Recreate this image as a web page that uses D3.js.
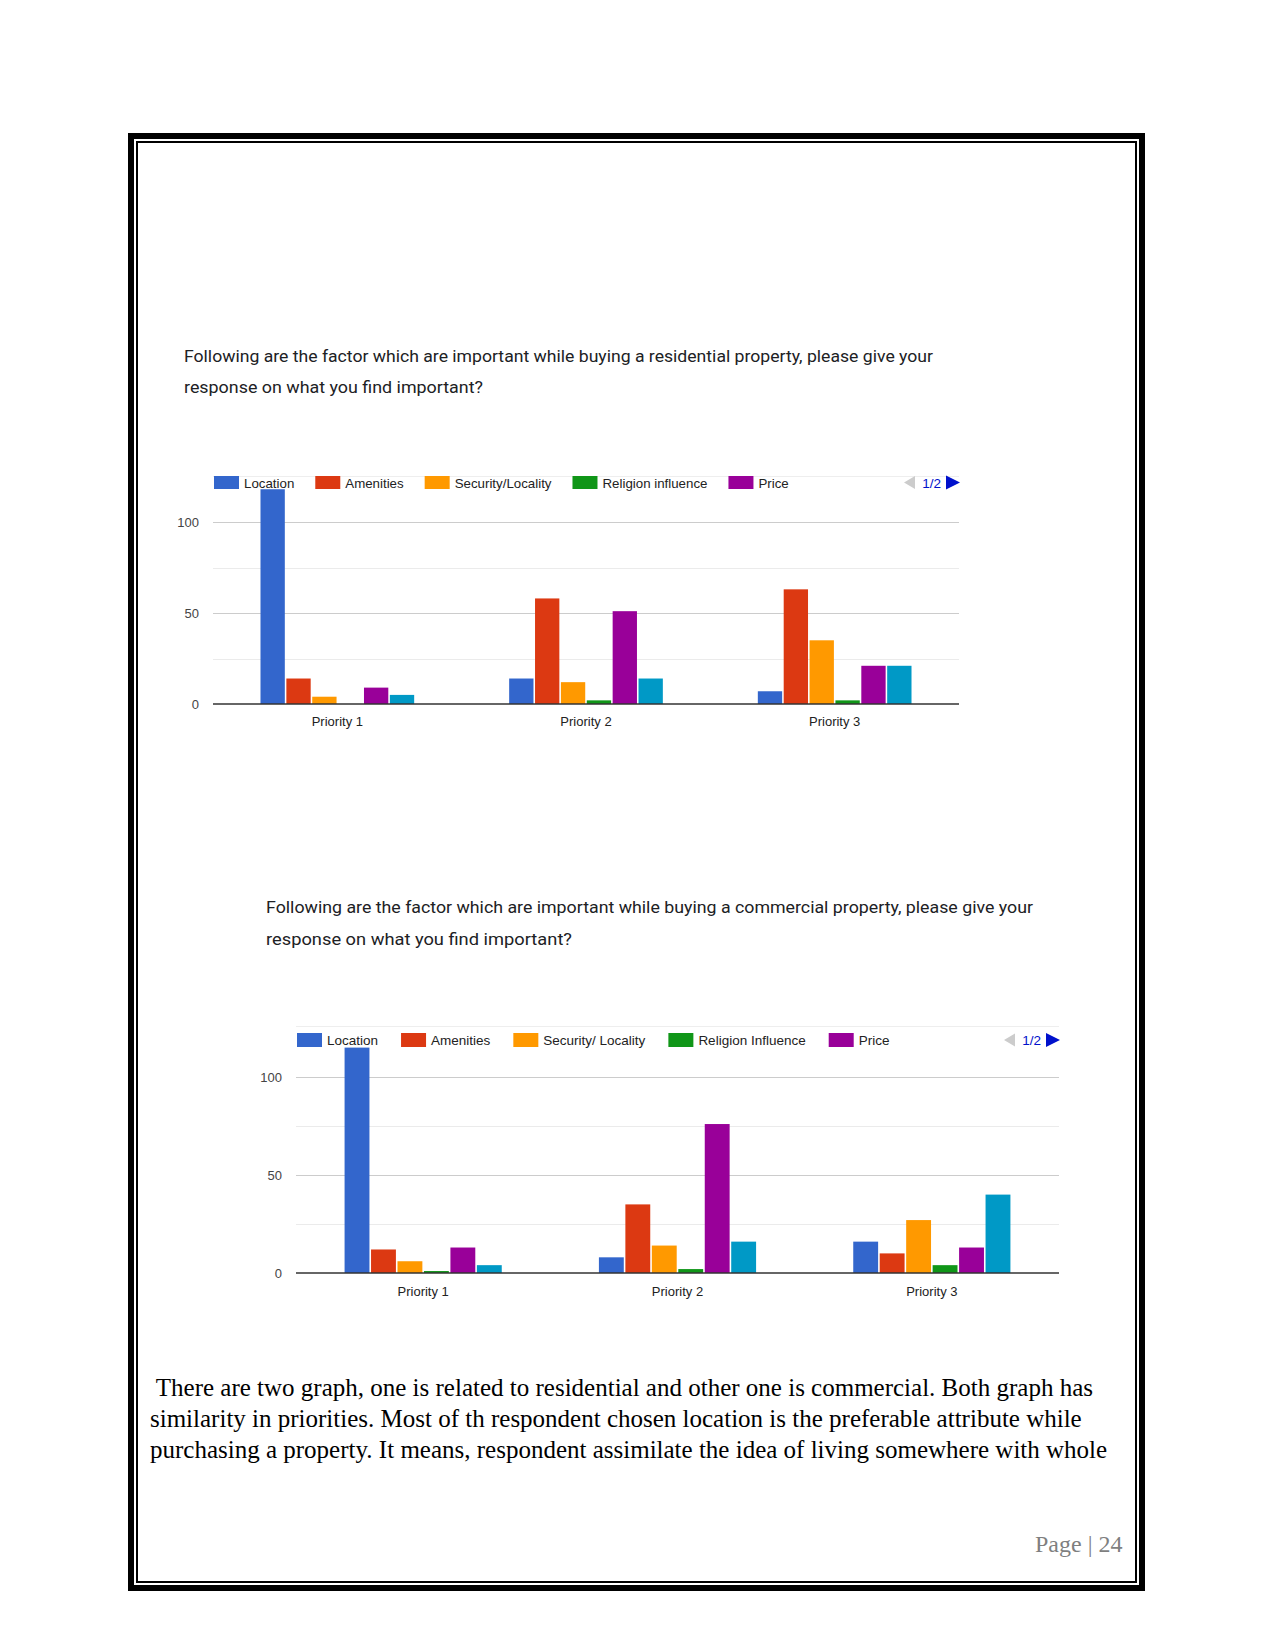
<!DOCTYPE html>
<html>
<head>
<meta charset="utf-8">
<script src="https://cdn.jsdelivr.net/npm/d3@7"></script>
<style>
  body { margin: 0; background: #fff; }
  svg { display: block; }
</style>
</head>
<body>
<div id="page"></div>
<script>

// categories shared by both charts
var categories = ["Priority 1", "Priority 2", "Priority 3"]

// legend names (legend is paged, only the first five show on page 1/2)
var resSeries = ["Location", "Amenities", "Security/Locality", "Religion influence", "Price", "Other"]
var comSeries = ["Location", "Amenities", "Security/ Locality", "Religion Influence", "Price", "Other"]
var seriesColors = ["#3366cc", "#dc3912", "#ff9900", "#109618", "#990099", "#0099c6"]

// residential property, responses per series for Priority 1..3
var resLocation  = [118, 14, 7]
var resAmenities = [14, 58, 63]
var resSecurity  = [4, 12, 35]
var resReligion  = [0, 2, 2]
var resPrice     = [9, 51, 21]
var resOther     = [5, 14, 21]

// commercial property, responses per series for Priority 1..3
var comLocation  = [115, 8, 16]
var comAmenities = [12, 35, 10]
var comSecurity  = [6, 14, 27]
var comReligion  = [1, 2, 4]
var comPrice     = [13, 76, 13]
var comOther     = [4, 16, 40]

var yTicks = [0, 50, 100]
var yMinorTicks = [25, 75]
var legendPage = "1/2"

var resTitle = [
  "Following are the factor which are important while buying a residential property, please give your",
  "response on what you find important?"
]
var comTitle = [
  "Following are the factor which are important while buying a commercial property, please give your",
  "response on what you find important?"
]

var paragraph = [
  " There are two graph, one is related to residential and other one is commercial. Both graph has",
  "similarity in priorities. Most of th respondent chosen location is the preferable attribute while",
  "purchasing a property. It means, respondent assimilate the idea of living somewhere with whole"
]

var pageLabel = "Page | 24"

var W = 1275, H = 1651

var svg = d3.select("#page").append("svg")
  .attr("width", W)
  .attr("height", H)
  .style("background", "#fff")

// page border: thick outer line plus thin inner line
svg.append("rect")
  .attr("x", 131).attr("y", 136)
  .attr("width", 1011).attr("height", 1452)
  .attr("fill", "none").attr("stroke", "#000").attr("stroke-width", 6)

svg.append("rect")
  .attr("x", 137).attr("y", 142)
  .attr("width", 999).attr("height", 1440)
  .attr("fill", "none").attr("stroke", "#000").attr("stroke-width", 2)

function drawChart(cfg) {

  var g = svg.append("g")

  // question text
  cfg.title.forEach(function (line, i) {
    g.append("text")
      .attr("x", cfg.titleX)
      .attr("y", cfg.titleY + i * cfg.titleGap)
      .attr("textLength", cfg.titleWidths[i])
      .attr("lengthAdjust", "spacingAndGlyphs")
      .style("font-family", "Roboto, 'Open Sans', sans-serif")
      .style("font-size", cfg.titleSize + "px")
      .style("fill", "#202124")
      .text(line)
  })

  var x = d3.scaleBand().domain(categories).range([cfg.left, cfg.right])

  var groupWidth = x.bandwidth() * 0.618

  var xInner = d3.scaleBand().domain(d3.range(cfg.values.length)).range([0, groupWidth]).paddingInner(0.06)

  var groupOffset = (x.bandwidth() - groupWidth) / 2

  var y = d3.scaleLinear().domain([0, 100]).range([cfg.zeroY, cfg.topY])

  // faint line at top of the chart area
  g.append("line")
    .attr("x1", cfg.left).attr("x2", cfg.right)
    .attr("y1", cfg.topLineY).attr("y2", cfg.topLineY)
    .attr("stroke", "#eeeeee").attr("stroke-width", 1)

  g.selectAll(".minor")
    .data(yMinorTicks)
    .enter()
    .append("line")
    .attr("class", "minor")
    .attr("x1", cfg.left).attr("x2", cfg.right)
    .attr("y1", d => Math.round(y(d)) + 0.5).attr("y2", d => Math.round(y(d)) + 0.5)
    .attr("stroke", "#ebebeb")

  g.selectAll(".major")
    .data(yTicks.filter(d => d > 0))
    .enter()
    .append("line")
    .attr("class", "major")
    .attr("x1", cfg.left).attr("x2", cfg.right)
    .attr("y1", d => Math.round(y(d)) + 0.5).attr("y2", d => Math.round(y(d)) + 0.5)
    .attr("stroke", "#cccccc")

  cfg.values.forEach(function (series, s) {
    g.selectAll(".bar-" + s)
      .data(series.map((v, i) => ({ cat: categories[i], v: v })).filter(d => d.v > 0))
      .enter()
      .append("rect")
      .attr("class", "bar-" + s)
      .attr("x", d => x(d.cat) + groupOffset + xInner(s))
      .attr("y", d => y(d.v))
      .attr("width", xInner.bandwidth())
      .attr("height", d => y(0) - y(d.v))
      .attr("fill", seriesColors[s])
  })

  // baseline
  g.append("line")
    .attr("x1", cfg.left).attr("x2", cfg.right)
    .attr("y1", y(0)).attr("y2", y(0))
    .attr("stroke", "#333").attr("stroke-width", 1.5)

  var yAxis = d3.axisLeft(y).tickValues(yTicks).tickSize(0).tickPadding(14)

  var ya = g.append("g").attr("transform", "translate(" + cfg.left + ",0)").call(yAxis)
  ya.select(".domain").remove()
  ya.selectAll("text")
    .style("font-family", "'Liberation Sans', Arial, sans-serif")
    .style("font-size", "13px")
    .style("fill", "#444")

  var xAxis = d3.axisBottom(x).tickSize(0).tickPadding(cfg.catPad)

  var xa = g.append("g").attr("transform", "translate(0," + y(0) + ")").call(xAxis)
  xa.select(".domain").remove()
  xa.selectAll("text")
    .style("font-family", "'Liberation Sans', Arial, sans-serif")
    .style("font-size", "13px")
    .style("fill", "#222")

  // legend, first page of five items
  var lx = cfg.left + 1
  cfg.names.slice(0, 5).forEach(function (name, s) {
    g.append("rect")
      .attr("x", lx).attr("y", cfg.legendY - cfg.swatchH / 2)
      .attr("width", 25).attr("height", cfg.swatchH)
      .attr("fill", seriesColors[s])
    var t = g.append("text")
      .attr("x", lx + 30).attr("y", cfg.legendY + 5)
      .style("font-family", "'Liberation Sans', Arial, sans-serif")
      .style("font-size", cfg.legendSize + "px")
      .style("fill", "#222")
      .text(name)
    lx = lx + 30 + t.node().getComputedTextLength() + cfg.legendGap
  })

  // legend paging arrows
  var ly = cfg.legendY
  g.append("path")
    .attr("d", "M" + (cfg.right - 44) + "," + (ly - 6.5) + "L" + (cfg.right - 44) + "," + (ly + 6.5) + "L" + (cfg.right - 55) + "," + ly + "Z")
    .attr("fill", "#cccccc")
  g.append("text")
    .attr("x", cfg.right - 18).attr("y", ly + 5)
    .attr("text-anchor", "end")
    .style("font-family", "'Liberation Sans', Arial, sans-serif")
    .style("font-size", "13.5px")
    .style("fill", "#0011cc")
    .text(legendPage)
  g.append("path")
    .attr("d", "M" + (cfg.right - 13) + "," + (ly - 7) + "L" + (cfg.right - 13) + "," + (ly + 7) + "L" + (cfg.right + 1) + "," + ly + "Z")
    .attr("fill", "#0011cc")
}

drawChart({
  title: resTitle, titleX: 184, titleY: 362, titleGap: 31, titleSize: 16, titleWidths: [749, 299],
  names: resSeries,
  values: [resLocation, resAmenities, resSecurity, resReligion, resPrice, resOther],
  left: 213, right: 959, zeroY: 704, topY: 522, topLineY: 476.5,
  legendY: 482.5, swatchH: 13, legendSize: 13.3, legendGap: 21, catPad: 13
})

drawChart({
  title: comTitle, titleX: 266, titleY: 913, titleGap: 32, titleSize: 16.4, titleWidths: [767, 306],
  names: comSeries,
  values: [comLocation, comAmenities, comSecurity, comReligion, comPrice, comOther],
  left: 296, right: 1059, zeroY: 1273, topY: 1077, topLineY: 1026.5,
  legendY: 1040, swatchH: 14, legendSize: 13.5, legendGap: 23, catPad: 14
})

// body text under the charts
svg.selectAll(".para")
  .data(paragraph)
  .enter()
  .append("text")
  .attr("class", "para")
  .attr("x", 150)
  .attr("y", (d, i) => 1396 + i * 31)
  .style("white-space", "pre")
  .style("font-family", "'Liberation Serif', 'Times New Roman', serif")
  .style("font-size", "25px")
  .style("fill", "#000")
  .text(d => d)

svg.append("text")
  .attr("x", 1035).attr("y", 1552)
  .style("font-family", "'Liberation Serif', 'Times New Roman', serif")
  .style("font-size", "24px")
  .style("fill", "#7f7f7f")
  .text(pageLabel)

</script>
</body>
</html>
